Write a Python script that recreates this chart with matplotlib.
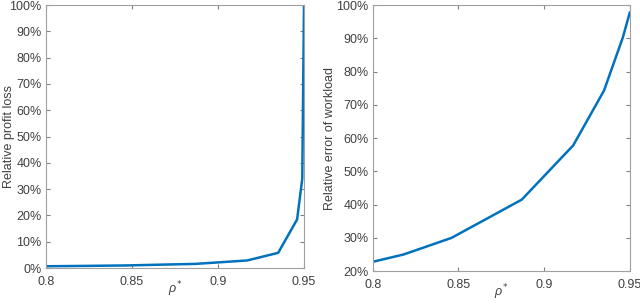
import numpy as np
import matplotlib.pyplot as plt
from matplotlib.ticker import FuncFormatter

# values
rho = [0.8, 0.818, 0.846, 0.887, 0.917, 0.935, 0.946, 0.949, 0.95]
profit_loss = [0.7, 0.8, 1.0, 1.6, 2.9, 5.8, 18.5, 34.0, 100.0]
rho_w = [0.8, 0.818, 0.846, 0.887, 0.917, 0.935, 0.946, 0.95]
workload_err = [22.8, 25.0, 30.0, 41.5, 57.8, 74.3, 90.3, 97.7]

x_ticks = [0.8, 0.85, 0.9, 0.95]
x_ticklabels = ['0.8', '0.85', '0.9', '0.95']

plt.rcParams['font.family'] = ['Liberation Sans', 'DejaVu Sans']
plt.rcParams['mathtext.fontset'] = 'custom'
plt.rcParams['mathtext.it'] = 'Liberation Sans:italic'
line_color = '#0072BD'
txt_color = '#404040'
pct = FuncFormatter(lambda v, p: '{:.0f}%'.format(v))

fig = plt.figure(figsize=(6.4, 3.05), dpi=100)
ax1 = fig.add_axes([0.0714, 0.121, 0.4036, 0.8626])
ax2 = fig.add_axes([0.5823, 0.111, 0.4017, 0.8726])

def style(ax):
  for s in ax.spines.values():
    s.set_color('#a0a0a0')
    s.set_linewidth(0.8)
  ax.tick_params(direction='in', top=True, right=True, length=3,
                 color='#808080', labelcolor=txt_color, labelsize=9)
  ax.tick_params(axis='x', pad=6)
  ax.tick_params(axis='y', pad=3)
  ax.set_xticks(x_ticks)
  ax.set_xticklabels(x_ticklabels)
  ax.set_xlim(0.8, 0.95)
  ax.yaxis.set_major_formatter(pct)
  ax.set_xlabel(r'$\rho^{*}$', color=txt_color, fontsize=9, va='center')

ax1.plot(rho, profit_loss, color=line_color, linewidth=1.8, solid_joinstyle='round')
style(ax1)
ax1.set_ylim(0, 100)
ax1.set_yticks(range(0, 101, 10))
ax1.set_ylabel('Relative profit loss', color=txt_color, fontsize=9, va='center')
ax1.yaxis.set_label_coords(-0.142, 0.5)
ax1.xaxis.set_label_coords(0.5, -0.08)

ax2.plot(rho_w, workload_err, color=line_color, linewidth=1.8, solid_joinstyle='round')
style(ax2)
ax2.set_ylim(20, 100)
ax2.set_yticks(range(20, 101, 10))
ax2.set_ylabel('Relative error of workload', color=txt_color, fontsize=9, va='center')
ax2.yaxis.set_label_coords(-0.166, 0.5)
ax2.xaxis.set_label_coords(0.5, -0.08)

fig.savefig('out.png', dpi=100)
